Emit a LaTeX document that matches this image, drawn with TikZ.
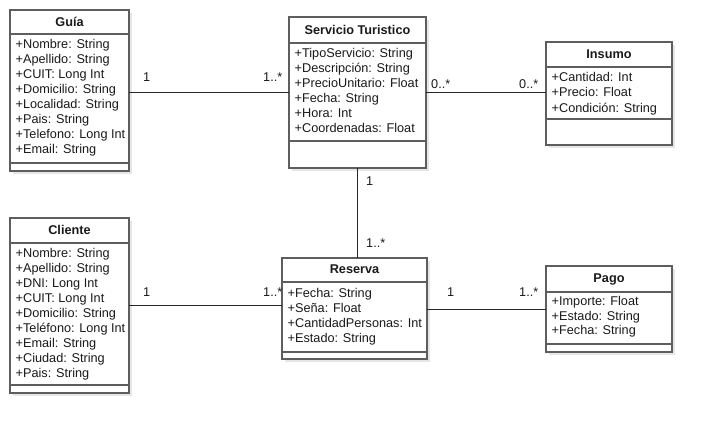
\documentclass[tikz,border=0pt]{standalone}
\usepackage{fontspec}
\setmainfont{Liberation Sans}
\usetikzlibrary{calc}
\definecolor{boxgray}{HTML}{5E5E5E}
\definecolor{shadowgray}{HTML}{E6E6E6}
\definecolor{txt}{HTML}{1A1A1A}
\tikzset{
  x=1pt, y=-1pt,
  classbox/.style={draw=boxgray, line width=1.2pt, fill=white, inner sep=0pt, outer sep=0pt, anchor=north west},
  shadowbox/.style={fill=shadowgray, draw=none},
  sepline/.style={draw=boxgray, line width=1.2pt},
  classtitle/.style={anchor=base, inner sep=0pt, text=txt, font=\fontsize{12.7}{15}\selectfont\bfseries},
  attr/.style={anchor=base west, inner sep=0pt, text=txt, font=\fontsize{12.7}{15}\selectfont},
  mult/.style={anchor=base west, inner sep=0pt, text=txt, font=\fontsize{12.7}{15}\selectfont},
  assoc/.style={draw=black!85, line width=0.9pt}
}
% #1 name, #2 left, #3 top, #4 width, #5 height, #6 header sep, #7 bottom sep, #8 title baseline offset, #9 title
\newcommand\umlclass[9]{%
  \fill[shadowbox] ({#2+3},{#3+3}) rectangle ++(#4,#5);
  \node[classbox, minimum width=#4pt, minimum height=#5pt] (#1) at (#2,#3) {};
  \draw[sepline] ($(#1.north west)+(0,#6)$) -- ($(#1.north east)+(0,#6)$);
  \draw[sepline] ($(#1.north west)+(0,#7)$) -- ($(#1.north east)+(0,#7)$);
  \node[classtitle] (#1-title) at ($(#1.north)+(0,#8)$) {#9};
}
\begin{document}
\begin{tikzpicture}
\useasboundingbox (0,0) rectangle (713,435);
\fill[white] (0,0) rectangle (713,435);

% Guía
\umlclass{guia}{10}{10}{119}{161}{24}{153}{17}{Guía}
\foreach \t [count=\i] in {+Nombre: String,+Apellido: String,+CUIT: Long Int,+Domicilio: String,+Localidad: String,+Pais: String,+Telefono: Long Int,+Email: String}
  \node[attr] (guia-a\i) at (15.5,{49+15*(\i-1)}) {\t};

% Servicio Turistico
\umlclass{servicio}{289}{17}{137}{151}{26}{124}{18}{Servicio Turistico}
\foreach \t [count=\i] in {+TipoServicio: String,+Descripción: String,+PrecioUnitario: Float,+Fecha: String,+Hora: Int,+Coordenadas: Float}
  \node[attr] (servicio-a\i) at (294.5,{57.5+15*(\i-1)}) {\t};

% Insumo
\umlclass{insumo}{546}{42}{126}{103}{25}{77}{17}{Insumo}
\foreach \t [count=\i] in {+Cantidad: Int,+Precio: Float,+Condición: String}
  \node[attr] (insumo-a\i) at (551.5,{81.5+15.5*(\i-1)}) {\t};

% Cliente
\umlclass{cliente}{10}{218}{119}{175}{25}{167}{17}{Cliente}
\foreach \t [count=\i] in {+Nombre: String,+Apellido: String,+DNI: Long Int,+CUIT: Long Int,+Domicilio: String,+Teléfono: Long Int,+Email: String,+Ciudad: String,+Pais: String}
  \node[attr] (cliente-a\i) at (15.5,{257.5+15*(\i-1)}) {\t};

% Reserva
\umlclass{reserva}{282}{258}{145}{101}{24}{94}{16}{Reserva}
\foreach \t [count=\i] in {+Fecha: String,+Seña: Float,+CantidadPersonas: Int,+Estado: String}
  \node[attr] (reserva-a\i) at (287.5,{298+15*(\i-1)}) {\t};

% Pago
\umlclass{pago}{546}{266}{126}{86}{26}{78}{17}{Pago}
\foreach \t [count=\i] in {+Importe: Float,+Estado: String,+Fecha: String}
  \node[attr] (pago-a\i) at (551.5,{306+14.5*(\i-1)}) {\t};

% Associations
\draw[assoc] (guia.east |- servicio.west) -- (servicio.west);
\draw[assoc] (servicio.east) -- (servicio.east -| insumo.west);
\draw[assoc] (servicio.south) -- (servicio.south |- reserva.north);
\draw[assoc] (cliente.east) -- (cliente.east -| reserva.west);
\draw[assoc] (reserva.east |- pago.west) -- (pago.west);

% Multiplicities
\node[mult] (m1) at (143,82) {1};
\node[mult] (m2) at (263,82) {1..*};
\node[mult] (m3) at (431,89) {0..*};
\node[mult] (m4) at (519,89) {0..*};
\node[mult] (m5) at (366,186) {1};
\node[mult] (m6) at (366,248) {1..*};
\node[mult] (m7) at (143,297) {1};
\node[mult] (m8) at (263,297) {1..*};
\node[mult] (m9) at (447,297) {1};
\node[mult] (m10) at (519,297) {1..*};
\end{tikzpicture}
\end{document}
